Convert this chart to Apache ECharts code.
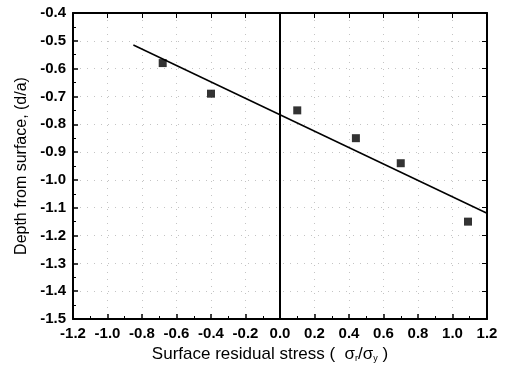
<!DOCTYPE html>
<html><head><meta charset="utf-8">
<script src="https://cdn.jsdelivr.net/npm/echarts@6/dist/echarts.min.js"></script>
<style>html,body{margin:0;padding:0;background:#fff}#c{width:507px;height:378px}</style>
</head><body><div id="c"></div>
<script>
const pointsX = [-0.68, -0.40, 0.10, 0.44, 0.70, 1.09];
const pointsY = [-0.58, -0.69, -0.75, -0.85, -0.94, -1.15];
const fitX = [-0.85, 1.2];
const fitY = [-0.515, -1.12];
const xTitle = 'Surface residual stress (  σ{s|r}/σ{s|y} )';
const yTitle = 'Depth from surface, (d/a)';

const chart = echarts.init(document.getElementById('c'));
const font = 'Liberation Sans';
const axLine = {show:true, onZero:false, lineStyle:{color:'#000', width:2}};
const grid = {show:true, lineStyle:{color:'#c4c4c4', type:[1,6], width:1}};
chart.setOption({
  animation:false,
  grid:{left:73, right:20, top:13, bottom:59},
  xAxis:[{
    type:'value', min:-1.2, max:1.2, interval:0.2,
    axisLine:axLine, axisTick:{inside:true, length:5, lineStyle:{width:1.5,color:'#000'}},
    minorTick:{show:true, splitNumber:2, length:3, lineStyle:{color:'#000'}},
    splitLine:grid,
    axisLabel:{color:'#000', fontFamily:font, fontSize:15, fontWeight:'bold', margin:7,
      formatter:v=>v.toFixed(1)},
    name:xTitle, nameLocation:'middle', nameGap:25,
    nameTextStyle:{color:'#000', fontFamily:font, fontSize:17, padding:[0,20,0,0],
      rich:{s:{fontSize:9, verticalAlign:'bottom', padding:[9,0,0,0], fontFamily:font}}}
  },{
    type:'value', min:-1.2, max:1.2, interval:0.2, position:'top',
    axisLine:axLine, axisTick:{inside:true, length:5, lineStyle:{color:'#000'}},
    minorTick:{show:false}, axisLabel:{show:false}, splitLine:{show:false}
  }],
  yAxis:[{
    type:'value', min:-1.5, max:-0.4, interval:0.1,
    axisLine:axLine, axisTick:{inside:true, length:5, lineStyle:{width:1.5,color:'#000'}},
    minorTick:{show:true, splitNumber:2, length:3, lineStyle:{color:'#000'}},
    splitLine:grid,
    axisLabel:{color:'#000', fontFamily:font, fontSize:15, fontWeight:'bold', margin:7,
      formatter:v=>v.toFixed(1)},
    name:yTitle, nameLocation:'middle', nameGap:41,
    nameTextStyle:{color:'#000', fontFamily:font, fontSize:16}
  },{
    type:'value', min:-1.5, max:-0.4, interval:0.1, position:'right',
    axisLine:axLine, axisTick:{inside:true, length:5, lineStyle:{color:'#000'}},
    axisLabel:{show:false}, splitLine:{show:false}
  }],
  series:[{
    type:'line', data:fitX.map((x,i)=>[x,fitY[i]]), symbol:'none',
    lineStyle:{color:'#000', width:1.5},
    markLine:{silent:true, symbol:'none', label:{show:false},
      lineStyle:{color:'#000', width:2, type:'solid'}, data:[{xAxis:0}]}
  },{
    type:'scatter', data:pointsX.map((x,i)=>[x,pointsY[i]]), symbol:'rect', symbolSize:8,
    itemStyle:{color:'#000'}
  }]
});
</script></body></html>
